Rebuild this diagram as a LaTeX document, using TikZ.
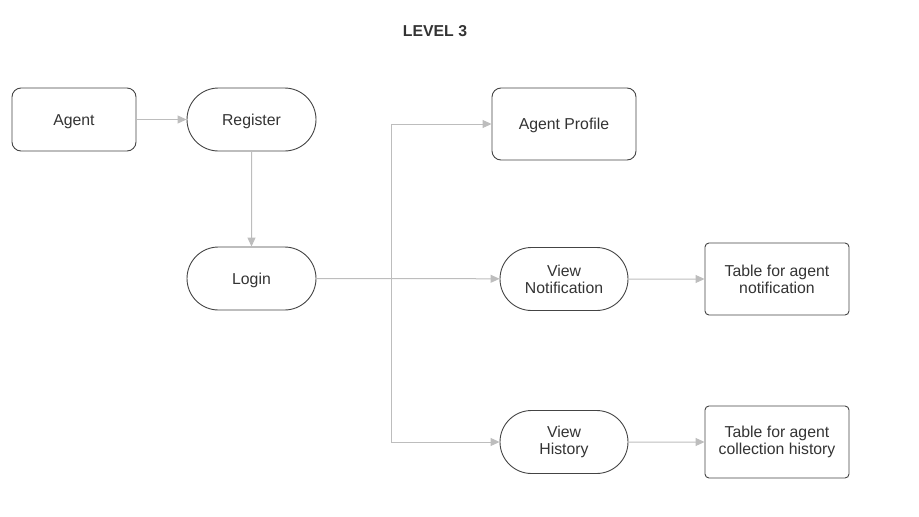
\documentclass[tikz,border=0pt]{standalone}
\usepackage{fontspec}
\setmainfont{Liberation Sans}
\usetikzlibrary{arrows.meta,shapes.misc}
\definecolor{edgegray}{HTML}{BDBDBD}
\definecolor{bordergray}{HTML}{444444}
\definecolor{txt}{HTML}{333333}
\begin{document}
\begin{tikzpicture}[x=1pt,y=-1pt,
  every node/.style={font=\fontsize{15.8}{17}\selectfont, text=txt, align=center},
  oneline/.style={text height=11.3pt, text depth=0pt},
  roundbox/.style={draw=bordergray, line width=0.9pt, rounded corners=9pt, inner sep=0pt},
  stadium/.style={draw=bordergray, line width=0.9pt, rounded rectangle, inner sep=0pt},
  tablebox/.style={draw=bordergray, line width=0.9pt, rounded corners=4pt, inner sep=0pt},
  conn/.style={draw=edgegray, line width=1pt, -{Triangle[length=9pt,width=8pt]}},
  plain/.style={draw=edgegray, line width=1pt}]
\useasboundingbox (0,0) rectangle (919,517);
\node[oneline, font=\fontsize{15.8}{17}\selectfont\bfseries] (title) at (435,31) {LEVEL 3};
\node[oneline, roundbox, minimum width=124pt, minimum height=63pt] (agent) at (74,119.5) {Agent};
\node[oneline, stadium, minimum width=129pt, minimum height=63pt] (register) at (251.5,119.5) {Register};
\node[oneline, stadium, minimum width=129pt, minimum height=63pt] (login) at (251.5,278.5) {Login};
\node[oneline, roundbox, minimum width=144pt, minimum height=72pt] (profile) at (564,124) {Agent Profile};
\node[stadium, minimum width=128pt, minimum height=63pt] (notif) at (564,279) {View\\Notification};
\node[tablebox, minimum width=144pt, minimum height=72pt] (tnotif) at (777,279) {Table for agent\\notification};
\node[stadium, minimum width=128pt, minimum height=63pt] (hist) at (564,442) {View\\History};
\node[tablebox, minimum width=144pt, minimum height=72pt] (thist) at (777,442) {Table for agent\\collection history};
\coordinate (split) at (391,278.5);
\draw[conn] (agent) -- (register);
\draw[conn] (register) -- (login);
\draw[plain] (login) -- (split);
\draw[conn] (split) -- (notif);
\draw[conn] (split) |- (profile);
\draw[conn] (split) |- (hist);
\draw[conn] (notif) -- (tnotif);
\draw[conn] (hist) -- (thist);
\end{tikzpicture}
\end{document}
